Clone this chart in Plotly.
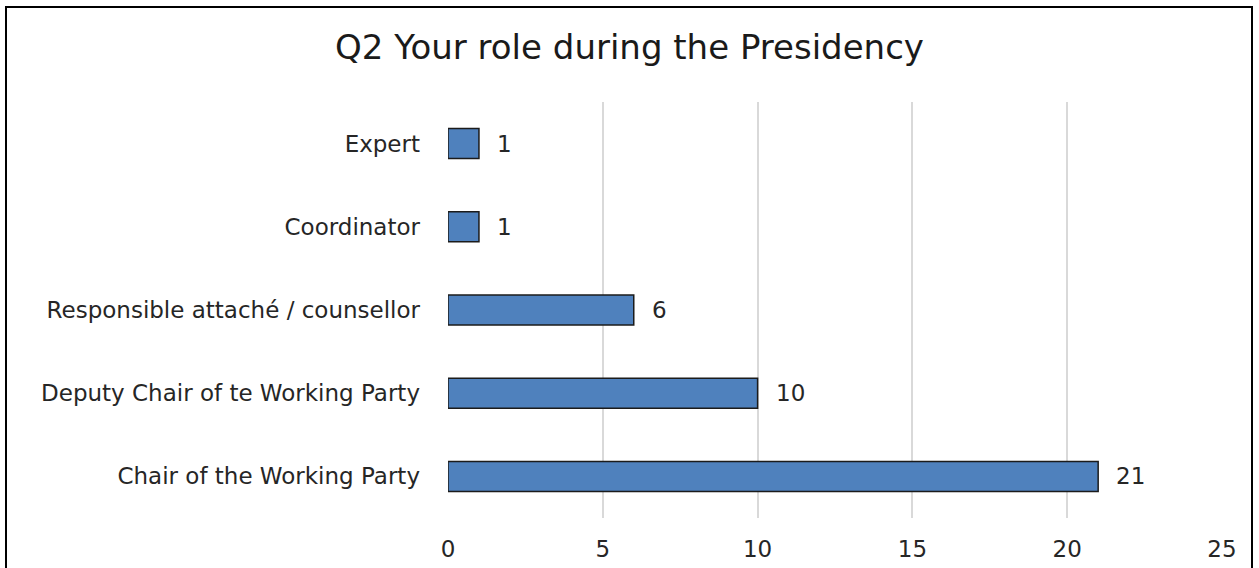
import plotly.graph_objects as go

# Survey responses: role held during the Presidency
roles = [
    "Chair of the Working Party",
    "Deputy Chair of te Working Party",
    "Responsible attaché / counsellor",
    "Coordinator",
    "Expert",
]
counts = [21, 10, 6, 1, 1]
x_ticks = [0, 5, 10, 15, 20, 25]

W, H = 1259, 568
L, R, T, B = 448, 37, 102, 50
FONT = "DejaVu Sans"
TEXT = "#262626"

fig = go.Figure(
    go.Bar(
        x=counts,
        y=roles,
        orientation="h",
        width=0.36,
        marker=dict(color="#4f81bd", line=dict(color="#1b1b1b", width=1.5)),
        hoverinfo="x+y",
    )
)

# value labels to the right of each bar
for v, r in zip(counts, roles):
    fig.add_annotation(
        x=v, y=r, text=str(v), showarrow=False,
        xanchor="left", xshift=16,
        font=dict(family=FONT, size=23, color=TEXT),
    )

# outer frame of the chart (its bottom edge runs off the page)
pw, ph = W - L - R, H - T - B
fig.add_shape(
    type="rect", xref="paper", yref="paper",
    x0=(6 - L) / pw, x1=(1252 - L) / pw,
    y0=-(B + 100) / ph, y1=1 + (T - 7) / ph,
    line=dict(color="#000000", width=2), fillcolor="rgba(0,0,0,0)",
    layer="above",
)

fig.update_layout(
    width=W, height=H,
    margin=dict(l=L, r=R, t=T, b=B, autoexpand=False),
    paper_bgcolor="white", plot_bgcolor="white",
    showlegend=False,
    title=dict(
        text="Q2 Your role during the Presidency",
        x=0.5, xanchor="center", y=1 - 47 / H, yanchor="middle",
        font=dict(family=FONT, size=34, color="#1a1a1a"),
    ),
    font=dict(family=FONT, color=TEXT),
)
fig.update_xaxes(
    range=[0, 25], tickvals=x_ticks, showgrid=True,
    gridcolor="#d9d9d9", gridwidth=1.5, zeroline=False,
    showline=False, ticks="", ticklabelstandoff=15, automargin=False,
    tickfont=dict(family=FONT, size=23, color=TEXT),
)
fig.update_yaxes(
    range=[-0.5, 4.5], showgrid=False, zeroline=False,
    showline=False, ticks="", ticklabelstandoff=27, automargin=False,
    tickfont=dict(family=FONT, size=23, color=TEXT),
)

fig.write_html("out.html")
